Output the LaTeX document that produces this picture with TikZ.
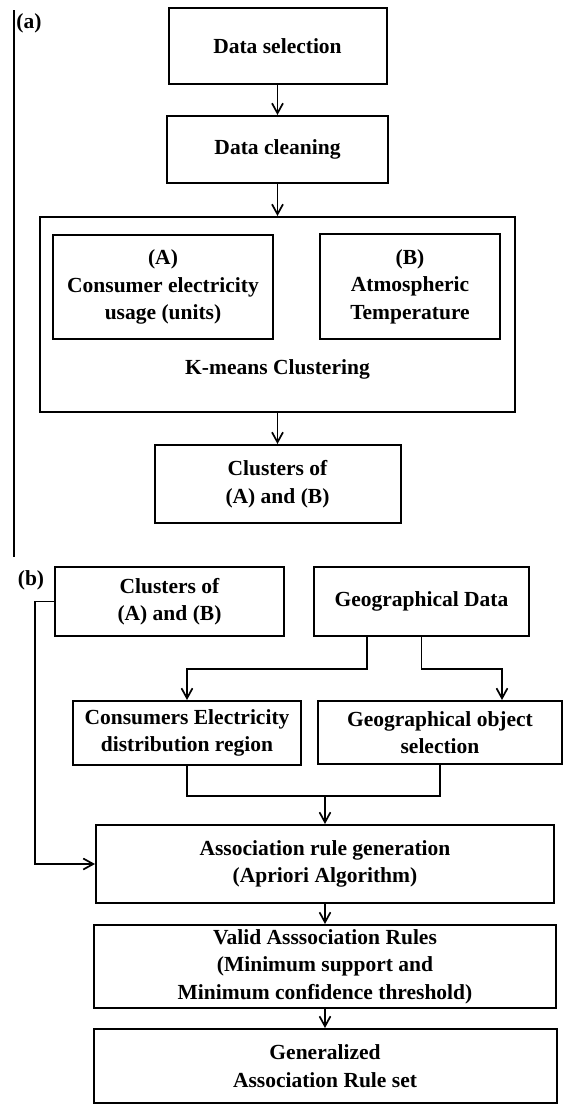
\documentclass[tikz,border=0pt]{standalone}
\usepackage{fontspec}
\setmainfont{Liberation Serif}
\usetikzlibrary{arrows.meta}

\begin{document}
\begin{tikzpicture}[x=1pt,y=-1pt,line width=1.7pt,font=\fontsize{21.5}{27.5}\selectfont\bfseries,
 box/.style={draw,line width=2pt,align=center,inner sep=0pt},
 arr/.style={-{Straight Barb[length=10pt,width=11pt]}}]
\path[use as bounding box] (0,0) rectangle (563,1104);
% part (a)
\draw (14,10)--(14,557);
\node (laba) at (29,23) {(a)};
\node[box,minimum width=218pt,minimum height=76pt] (dsel) at (277.5,46) {Data selection};
\node[box,minimum width=221pt,minimum height=67pt] (dclean) at (277.5,149.5) {Data cleaning};
\node[box,minimum width=475pt,minimum height=195pt] (kmeans) at (277.5,314.5) {};
\node (kmlab) at (277.5,369) {K-means Clustering};
\node[box,minimum width=220pt,minimum height=104pt] (usage) at (163,287) {(A)\\Consumer electricity\\usage (units)};
\node[box,minimum width=180pt,minimum height=105pt] (temp) at (410,286.5) {(B)\\Atmospheric\\Temperature};
\node[box,minimum width=246pt,minimum height=78pt] (clua) at (277.5,484) {Clusters of\\(A) and (B)};
% part (b)
\node (labb) at (31,580) {(b)};
\node[box,minimum width=229pt,minimum height=69pt] (club) at (169.5,601.5) {Clusters of\\(A) and (B)};
\node[box,minimum width=215pt,minimum height=69pt] (geo) at (421.5,601.5) {Geographical Data};
\node[box,minimum width=228pt,minimum height=64pt] (dist) at (187,733) {Consumers Electricity\\distribution region};
\node[box,minimum width=244pt,minimum height=63pt] (gobj) at (440,732.5) {Geographical object\\selection};
\node[box,minimum width=458pt,minimum height=78pt] (arg) at (325,864) {Association rule generation\\(Apriori Algorithm)};
\node[box,minimum width=462pt,minimum height=83pt] (valid) at (325,966.5) {Valid Asssociation Rules\\(Minimum support and\\Minimum confidence threshold)};
\node[box,minimum width=463pt,minimum height=74pt] (gen) at (325,1066) {Generalized\\Association Rule set};
\coordinate (bend) at (35,601.5);
\coordinate (join) at (325,795);
\foreach \a/\b in {dsel/dclean,dclean/kmeans,kmeans/clua,arg/valid,valid/gen}{
 \draw[arr] (\a.south)--(\b.north);
}
\draw[arr] ([xshift=-54.5pt]geo.south)--++(0,32)-|(dist.north);
\draw[arr] (geo.south)--++(0,32)-|([xshift=62pt]gobj.north);
\draw (dist.south)--++(0,30)-|(gobj.south);
\draw[arr] (join)--(arg.north);
\draw[arr] (club.west)--(bend)|-(arg.west);
\end{tikzpicture}
\end{document}
